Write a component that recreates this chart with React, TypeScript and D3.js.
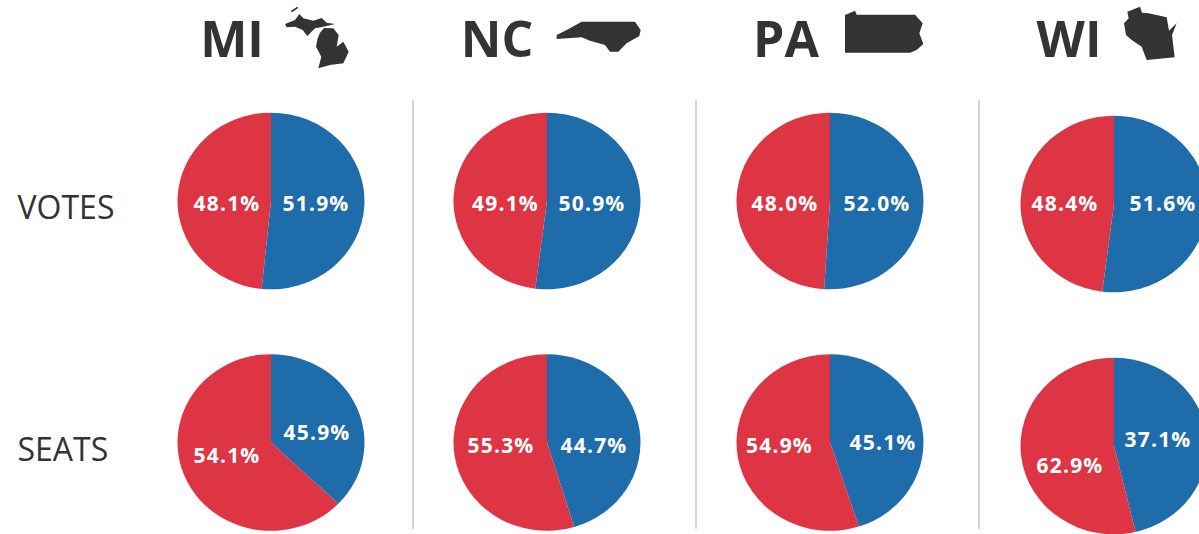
import React from "react";
import * as d3 from "d3";

const states = ["MI", "NC", "PA", "WI"];
const rows = ["VOTES", "SEATS"];
// Printed labels
const demVotes = ["51.9%", "50.9%", "52.0%", "51.6%"];
const repVotes = ["48.1%", "49.1%", "48.0%", "48.4%"];
const demSeats = ["45.9%", "44.7%", "45.1%", "37.1%"];
const repSeats = ["54.1%", "55.3%", "54.9%", "62.9%"];
// Blue share as actually drawn in the picture
const drawnVotes = [51.6, 52.0, 51.0, 52.0];
const drawnSeats = [37.2, 45.3, 45.0, 46.3];

const BLUE = "#1f6cab";
const RED = "#de3545";
const INK = "#333333";
const FONT = "'Open Sans', sans-serif";

const centerX = [271, 547, 830, 1114];
const centerY = [[201, 201, 201, 204], [442.5, 442.5, 442.5, 446]];
const dividers = [413, 696, 979];
const voteLabelX = [[227, 316], [505.5, 592], [785, 877], [1065, 1163]];
const seatLabelX = [[227, 317], [501, 594], [779.5, 883], [1070, 1158]];
const seatLabelY = [[463, 440], [453, 453], [453, 450], [473, 447]];

// Decorative state silhouettes, in 3x crop coordinates of each header
const icons: { ox: number; paths: number[][][] }[] = [
  { ox: 180, paths: [
    [[332,33],[352,20],[355,24],[336,37]],
    [[315,72],[345,60],[358,42],[370,55],[400,62],[425,54],[440,68],[465,72],[430,80],[405,85],[382,108],[368,90],[345,80],[320,82]],
    [[413,115],[420,98],[432,84],[460,85],[476,105],[470,140],[490,125],[506,155],[490,190],[450,195],[415,205],[424,170],[408,140]],
  ]},
  { ox: 450, paths: [
    [[320,105],[350,90],[395,65],[555,65],[572,90],[568,108],[530,130],[505,155],[480,155],[465,135],[420,122],[395,112],[320,117]],
  ]},
  { ox: 740, paths: [
    [[315,45],[345,32],[350,44],[525,44],[548,70],[538,100],[550,132],[530,150],[510,158],[315,158]],
  ]},
  { ox: 1020, paths: [
    [[322,35],[360,20],[366,38],[385,40],[440,52],[447,92],[470,70],[456,105],[464,172],[380,180],[365,140],[335,120],[318,105],[312,70],[326,55]],
  ]},
];
const iconPath = (pts: number[][], ox: number) =>
  d3.line().curve(d3.curveLinearClosed)(pts.map(([x, y]) => [ox + x / 3, y / 3]) as [number, number][]) as string;

const Pie = ({ cx, cy, share }: { cx: number; cy: number; share: number }) => {
  const pie = d3.pie<number>().sort(null);
  const arc = d3.arc<d3.PieArcDatum<number>>().innerRadius(0).outerRadius(93.5);
  const arcs = pie([share, 100 - share]);
  return (
    <g transform={`translate(${cx},${cy}) scale(1,0.945)`}>
      <path d={arc(arcs[0]) as string} fill={BLUE} />
      <path d={arc(arcs[1]) as string} fill={RED} />
    </g>
  );
};

export default function App() {
  const headerX = [232, 497, 786, 1069];
  return (
    <svg width={1199} height={534} style={{ position: "absolute", left: 0, top: 0, fontFamily: FONT }}>
      {dividers.map((x) => (
        <line key={x} x1={x} x2={x} y1={100} y2={529} stroke="#c9c9c9" strokeWidth={1.5} />
      ))}
      {states.map((s, i) => (
        <text key={s} x={headerX[i]} y={57} textAnchor="middle" fontSize={50} fontWeight={700} fill={INK}>{s}</text>
      ))}
      {icons.map((ic, i) => (
        <g key={i} fill={INK}>
          {ic.paths.map((p, j) => <path key={j} d={iconPath(p, ic.ox)} />)}
        </g>
      ))}
      {rows.map((r, i) => (
        <text key={r} x={17.5} y={i === 0 ? 219 : 461} fontSize={32} fill={INK}>{r}</text>
      ))}
      {states.map((s, i) => <Pie key={"v" + s} cx={centerX[i]} cy={centerY[0][i]} share={drawnVotes[i]} />)}
      {states.map((s, i) => <Pie key={"s" + s} cx={centerX[i]} cy={centerY[1][i]} share={drawnSeats[i]} />)}
      <g fill="#fff" fontSize={21} fontWeight={700} textAnchor="middle" letterSpacing={1.2}>
        {states.map((s, i) => (
          <g key={s}>
            <text x={voteLabelX[i][0]} y={211}>{repVotes[i]}</text>
            <text x={voteLabelX[i][1]} y={211}>{demVotes[i]}</text>
            <text x={seatLabelX[i][0]} y={seatLabelY[i][0]}>{repSeats[i]}</text>
            <text x={seatLabelX[i][1]} y={seatLabelY[i][1]}>{demSeats[i]}</text>
          </g>
        ))}
      </g>
    </svg>
  );
}
